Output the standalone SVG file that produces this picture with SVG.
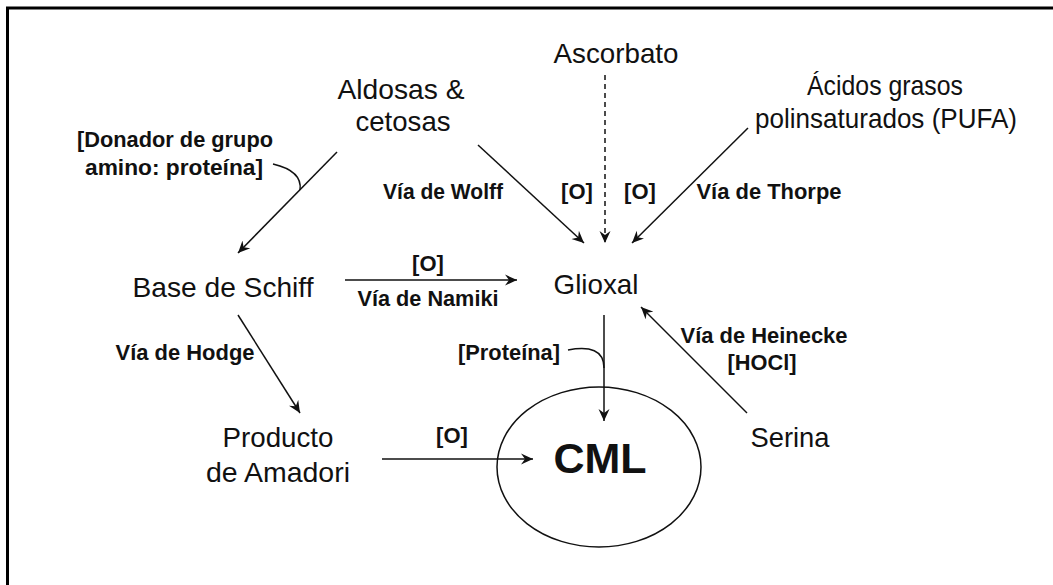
<svg xmlns="http://www.w3.org/2000/svg" width="1053" height="585" viewBox="0 0 1053 585">
<defs>
<marker id="arr" markerWidth="14" markerHeight="12" refX="12" refY="6" orient="auto" markerUnits="userSpaceOnUse">
<path d="M0,0.5 L12,6 L0,11.5 L4,6 Z" fill="#111"/>
</marker>
<style>
.t{font-family:"Liberation Sans",Arial,sans-serif;font-size:28px;fill:#111;text-anchor:middle}
.b{font-family:"Liberation Sans",Arial,sans-serif;font-size:22px;font-weight:bold;fill:#111;text-anchor:middle}
.c{stroke:#111;stroke-width:1.5;fill:none}
.a{marker-end:url(#arr)}
</style>
</defs>
<rect width="1053" height="585" fill="#fff"/>
<path d="M7.5,590 L7.5,8 L1060,8" fill="none" stroke="#000" stroke-width="3"/>

<g id="aldosas"><text class="t" x="401" y="99" textLength="127" lengthAdjust="spacingAndGlyphs">Aldosas &amp;</text><text class="t" x="403" y="131" textLength="95" lengthAdjust="spacingAndGlyphs">cetosas</text></g>
<g id="ascorbato"><text class="t" x="616" y="63" textLength="125" lengthAdjust="spacingAndGlyphs">Ascorbato</text></g>
<g id="pufa"><text class="t" x="885" y="95" textLength="156" lengthAdjust="spacingAndGlyphs">Ácidos grasos</text><text class="t" x="886" y="128" textLength="262" lengthAdjust="spacingAndGlyphs">polinsaturados (PUFA)</text></g>
<g id="schiff"><text class="t" x="223" y="297" textLength="181" lengthAdjust="spacingAndGlyphs">Base de Schiff</text></g>
<g id="glioxal"><text class="t" x="596" y="294" textLength="85" lengthAdjust="spacingAndGlyphs">Glioxal</text></g>
<g id="amadori"><text class="t" x="278" y="447" textLength="111" lengthAdjust="spacingAndGlyphs">Producto</text><text class="t" x="278" y="482" textLength="144" lengthAdjust="spacingAndGlyphs">de Amadori</text></g>
<g id="serina"><text class="t" x="790" y="447" textLength="79" lengthAdjust="spacingAndGlyphs">Serina</text></g>
<g id="cml"><ellipse cx="599" cy="467" rx="102" ry="80" class="c" stroke-width="1.3"/><text x="600" y="473" font-family="Liberation Sans,Arial,sans-serif" font-size="43" font-weight="bold" fill="#111" text-anchor="middle">CML</text></g>

<g id="labels">
<text class="b" x="175" y="147" textLength="196" lengthAdjust="spacingAndGlyphs">[Donador de grupo</text>
<text class="b" x="174" y="175" textLength="178" lengthAdjust="spacingAndGlyphs">amino: proteína]</text>
<text class="b" x="443" y="199" textLength="120" lengthAdjust="spacingAndGlyphs">Vía de Wolff</text>
<text class="b" x="577" y="199">[O]</text>
<text class="b" x="640" y="199">[O]</text>
<text class="b" x="769" y="199" textLength="145" lengthAdjust="spacingAndGlyphs">Vía de Thorpe</text>
<text class="b" x="428" y="271">[O]</text>
<text class="b" x="428" y="306" textLength="141" lengthAdjust="spacingAndGlyphs">Vía de Namiki</text>
<text class="b" x="185" y="360" textLength="139" lengthAdjust="spacingAndGlyphs">Vía de Hodge</text>
<text class="b" x="509" y="360" textLength="102" lengthAdjust="spacingAndGlyphs">[Proteína]</text>
<text class="b" x="764" y="343" textLength="167" lengthAdjust="spacingAndGlyphs">Vía de Heinecke</text>
<text class="b" x="762" y="370" textLength="69" lengthAdjust="spacingAndGlyphs">[HOCl]</text>
<text class="b" x="452" y="443">[O]</text>
</g>

<g id="connectors">
<line class="c a" x1="337" y1="152" x2="238" y2="253"/>
<path class="c" d="M273,164 C290,168 302,176 300,190"/>
<line class="c a" x1="478" y1="145" x2="584" y2="243"/>
<line class="c a" x1="605" y1="75" x2="605" y2="243" stroke-dasharray="5,4"/>
<line class="c a" x1="748" y1="128" x2="632" y2="243"/>
<line class="c a" x1="345" y1="280" x2="517" y2="280"/>
<line class="c a" x1="604" y1="315" x2="604" y2="421"/>
<path class="c" d="M568,350 C590,346 604,350 604,368"/>
<line class="c a" x1="238" y1="315" x2="300" y2="413"/>
<line class="c a" x1="382" y1="459" x2="533" y2="459"/>
<line class="c a" x1="747" y1="413" x2="641" y2="307"/>
</g>
</svg>
